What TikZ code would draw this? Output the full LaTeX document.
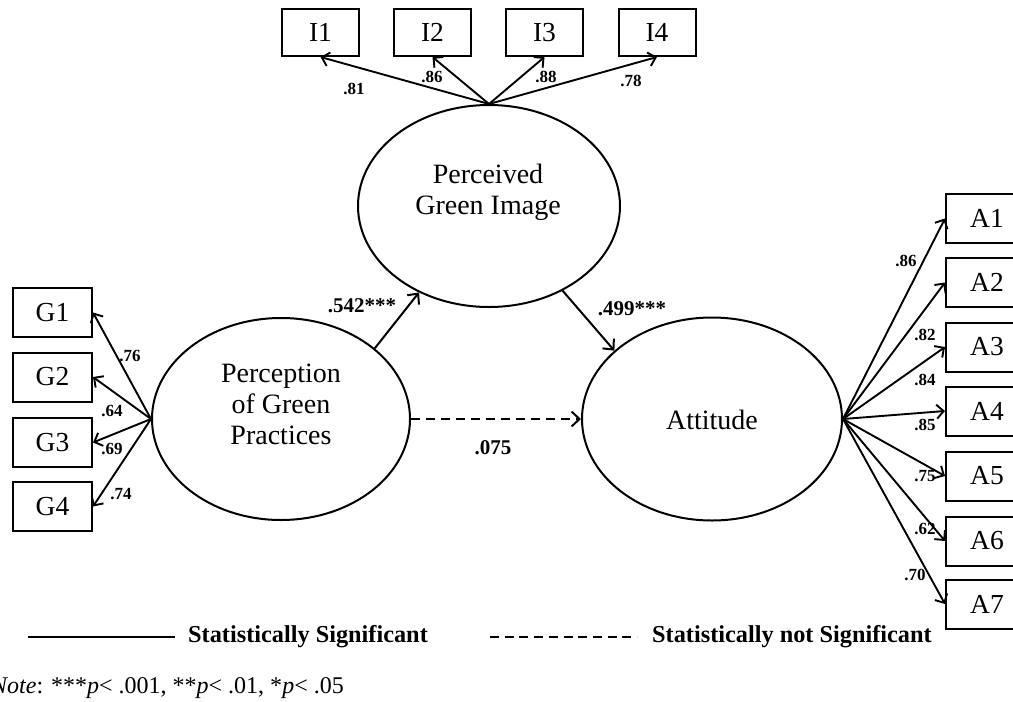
\documentclass[tikz,border=0pt]{standalone}
\usepackage{fontspec}
\setmainfont{Liberation Serif}
\usetikzlibrary{shapes.geometric,arrows.meta}

\tikzset{
  latent/.style={ellipse, draw, line width=2pt, inner sep=0pt},
  lattext/.style={align=center, font=\fontsize{28}{31}\selectfont, inner sep=0pt},
  indicator/.style={draw, line width=2pt, minimum width=77pt, minimum height=47pt,
    inner sep=0pt, font=\fontsize{27.5}{30}\selectfont},
  loadarrow/.style={line width=1.9pt, -{Straight Barb[length=7pt,width=14pt,line width=1.9pt]}},
  patharrow/.style={line width=2pt, -{Straight Barb[length=8pt,width=15pt,line width=2pt]}},
  loading/.style={font=\bfseries\fontsize{17}{19}\selectfont, inner sep=0pt},
  coef/.style={font=\bfseries\fontsize{21}{23}\selectfont, inner sep=0pt},
  legendtext/.style={font=\bfseries\fontsize{24.3}{26}\selectfont, inner sep=0pt, anchor=west},
}

\begin{document}
\begin{tikzpicture}[x=1pt, y=-1pt]
  \clip (0,0) rectangle (1013,702);
  \fill[white] (0,0) rectangle (1013,702);

  % latent constructs
  \node[latent, minimum width=262pt, minimum height=202pt] (pgi) at (489,206) {};
  \node[lattext] (pgiT) at (488,192) {Perceived\\Green Image};
  \node[latent, minimum width=258pt, minimum height=202pt] (pgp) at (281,419) {};
  \node[lattext] (pgpT) at (281,404) {Perception\\of Green\\Practices};
  \node[latent, minimum width=260pt, minimum height=203pt] (att) at (712,419) {};
  \node[lattext] (attT) at (712,420) {Attitude};

  % image indicators
  \node[indicator] (i1) at (320.5,32.5) {I1};
  \node[indicator] (i2) at (432.5,32.5) {I2};
  \node[indicator] (i3) at (544.5,32.5) {I3};
  \node[indicator] (i4) at (657,32.5) {I4};

  % practice indicators
  \node[indicator, minimum width=79pt, minimum height=49pt] (g1) at (52.5,312.5) {G1};
  \node[indicator, minimum width=79pt, minimum height=49pt] (g2) at (52.5,377) {G2};
  \node[indicator, minimum width=79pt, minimum height=49pt] (g3) at (52.5,442.5) {G3};
  \node[indicator, minimum width=79pt, minimum height=49pt] (g4) at (52.5,506.5) {G4};

  % attitude indicators
  \foreach \n/\y in {1/218.5, 2/282.5, 3/347, 4/411, 5/476, 6/541, 7/604}
    \node[indicator, minimum width=82pt, minimum height=49pt] (a\n) at (987,\y) {A\n};

  % loadings
  \foreach \n in {1,...,4} \draw[loadarrow] (pgi.north) -- (i\n.south);
  \foreach \n in {1,...,4} \draw[loadarrow] (pgp.west) -- (g\n.east);
  \foreach \n in {1,...,7} \draw[loadarrow] (att.east) -- (a\n.west);

  \node[loading] (l81) at (354,89) {.81};
  \node[loading] (l86) at (432,77) {.86};
  \node[loading] (l88) at (546,77) {.88};
  \node[loading] (l78) at (631,81) {.78};

  \node[loading] (l76) at (130,356) {.76};
  \node[loading] (l64) at (112,411) {.64};
  \node[loading] (l69) at (112,449) {.69};
  \node[loading] (l74) at (121,494) {.74};

  \node[loading] (la1) at (906,261) {.86};
  \node[loading] (la2) at (925,335) {.82};
  \node[loading] (la3) at (925,380) {.84};
  \node[loading] (la4) at (925,425) {.85};
  \node[loading] (la5) at (925,476) {.75};
  \node[loading] (la6) at (925,529) {.62};
  \node[loading] (la7) at (915,575) {.70};

  % structural paths
  \draw[patharrow] (pgp.37.5) -- (pgi.231);
  \draw[patharrow] (pgi.311) -- (att.145);
  \draw[patharrow, dash pattern=on 9pt off 6pt] (pgp.east) -- (att.west);

  \node[coef] (c1) at (362,306) {.542***};
  \node[coef] (c2) at (632,309) {.499***};
  \node[coef] (c3) at (493,448) {.075};

  % legend
  \coordinate (s0) at (28,637);
  \coordinate (s1) at (175,637);
  \draw[line width=2pt] (s0) -- (s1);
  \node[legendtext] (sig) at (188,637) {Statistically Significant};
  \coordinate (d0) at (490,637);
  \coordinate (d1) at (637,637);
  \draw[line width=2pt, dash pattern=on 9pt off 5.7pt] (d0) -- (d1);
  \node[legendtext] (nsig) at (652,637) {Statistically not Significant};

  \node[anchor=west, inner sep=0pt, font=\fontsize{24}{26}\selectfont] (note) at (-9,688)
    {\textit{Note}: ***\textit{p}< .001, **\textit{p}< .01, *\textit{p}< .05};
\end{tikzpicture}
\end{document}
